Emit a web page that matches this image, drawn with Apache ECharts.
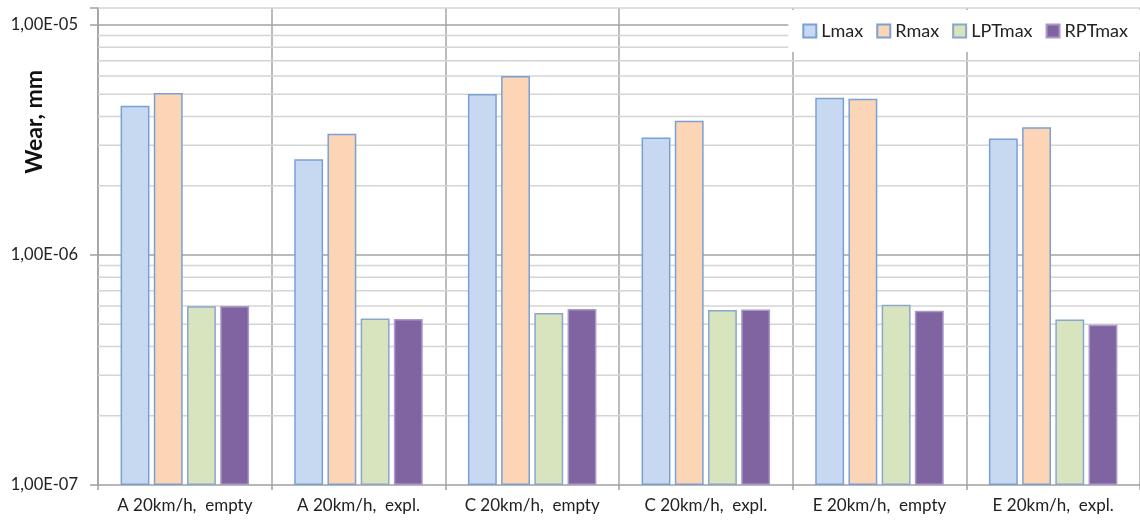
<!DOCTYPE html>
<html>
<head>
<meta charset="utf-8">
<script src="https://cdn.jsdelivr.net/npm/echarts@6/dist/echarts.min.js"></script>
<style>
  html, body { margin: 0; padding: 0; background: #fff; }
  #chart { width: 1140px; height: 524px; }
</style>
</head>
<body>
<div id="chart"></div>
<script>
// Wear per test case, log scale (mm)
const categories = ['A 20km/h,  empty', 'A 20km/h,  expl.', 'C 20km/h,  empty', 'C 20km/h,  expl.', 'E 20km/h,  empty', 'E 20km/h,  expl.'];
const seriesNames = ['Lmax', 'Rmax', 'LPTmax', 'RPTmax'];
const Lmax   = [4.46e-6, 2.61e-6, 5.01e-6, 3.24e-6, 4.83e-6, 3.21e-6];
const Rmax   = [5.06e-6, 3.37e-6, 6.00e-6, 3.84e-6, 4.78e-6, 3.59e-6];
const LPTmax = [5.98e-7, 5.30e-7, 5.60e-7, 5.77e-7, 6.08e-7, 5.25e-7];
const RPTmax = [6.00e-7, 5.27e-7, 5.82e-7, 5.80e-7, 5.73e-7, 4.98e-7];
const yMin = 1e-7;
const yTop = 1.186e-5;           // plot area extends slightly above 1E-05
const majorLines = [1e-6, 1e-5];
const minorLines = [];
[1e-7, 1e-6].forEach(d => { for (let m = 2; m <= 9; m++) minorLines.push(+(m * d).toPrecision(3)); });

const fills = ['#c6d9f1', '#fbd5b5', '#d7e4bd', '#8064a2'];
const borders = ['#7aa0d6', '#7aa0d6', '#8aa6cf', '#a899c6'];
const values = [Lmax, Rmax, LPTmax, RPTmax];

const font = 'Lato, "Open Sans", sans-serif';

const barSeries = seriesNames.map((name, i) => ({
  name: name,
  type: 'bar',
  data: values[i],
  barGap: '15%',
  barCategoryGap: '26%',
  z: 3,
  itemStyle: { color: fills[i], borderColor: borders[i], borderWidth: 1.5 }
}));

// horizontal grid lines (minor 2..9 per decade, darker at powers of ten),
// placed through the y axis scale and drawn beneath the bars
const gridLineDefs = [
  ...minorLines.map(v => ({ v: v, major: false })),
  { v: yTop, major: false },
  ...majorLines.map(v => ({ v: v, major: true }))
];
const gridSeries = {
  type: 'custom',
  name: 'grid',
  silent: true,
  z: 1,
  animation: false,
  data: gridLineDefs.map(d => [d.v, d.major ? 1 : 0]),
  encode: { y: 0 },
  renderItem: (params, api) => {
    const y = api.coord([0, api.value(0)])[1];
    const cs = params.coordSys;
    const major = api.value(1) === 1;
    return {
      type: 'line',
      shape: { x1: cs.x, y1: y, x2: cs.x + cs.width, y2: y },
      style: { stroke: major ? '#a3a3a3' : '#d4d4d4', lineWidth: 1.5 }
    };
  }
};

const chart = echarts.init(document.getElementById('chart'), null, { renderer: 'canvas' });
chart.setOption({
  animation: false,
  backgroundColor: '#ffffff',
  grid: { left: 98, right: -2, top: 8, bottom: 39, containLabel: false },
  legend: {
    data: seriesNames,
    right: 0,
    top: 10,
    padding: [12, 12, 12, 14],
    backgroundColor: '#ffffff',
    icon: 'rect',
    itemWidth: 13,
    itemHeight: 13,
    itemGap: 13,
    textStyle: { fontFamily: font, fontSize: 18, color: '#222' },
    selectedMode: false
  },
  xAxis: {
    type: 'category',
    data: categories,
    axisLine: { lineStyle: { color: '#a0a0a0', width: 1.5 } },
    axisTick: { show: true, interval: 0, length: 5, lineStyle: { color: '#a0a0a0', width: 1.5 } },
    splitLine: { show: true, interval: 0, lineStyle: { color: '#a6a6a6', width: 1.5 } },
    axisLabel: { interval: 0, fontFamily: font, fontSize: 17, color: '#222', margin: 12 }
  },
  yAxis: {
    type: 'log',
    logBase: 10,
    min: yMin,
    max: yTop,
    startValue: yMin,
    splitNumber: 2,
    axisLine: { show: true, lineStyle: { color: '#a0a0a0', width: 1.5 } },
    axisTick: { show: true, length: 8, lineStyle: { color: '#a0a0a0', width: 1.5 } },
    splitLine: { show: false },
    axisLabel: {
      fontFamily: font, fontSize: 16.5, color: '#222', margin: 20,
      formatter: v => {
        const e = Math.log10(v);
        const r = Math.round(e);
        if (Math.abs(e - r) > 1e-6) return '';
        return '1,00E-' + String(-r).padStart(2, '0');
      }
    }
  },
  graphic: [{
    type: 'text',
    left: 23,
    top: 70,
    rotation: Math.PI / 2,
    style: { text: 'Wear, mm', font: 'bold 23px ' + font, fill: '#111' }
  }],
  series: [gridSeries, ...barSeries]
});
</script>
</body>
</html>
